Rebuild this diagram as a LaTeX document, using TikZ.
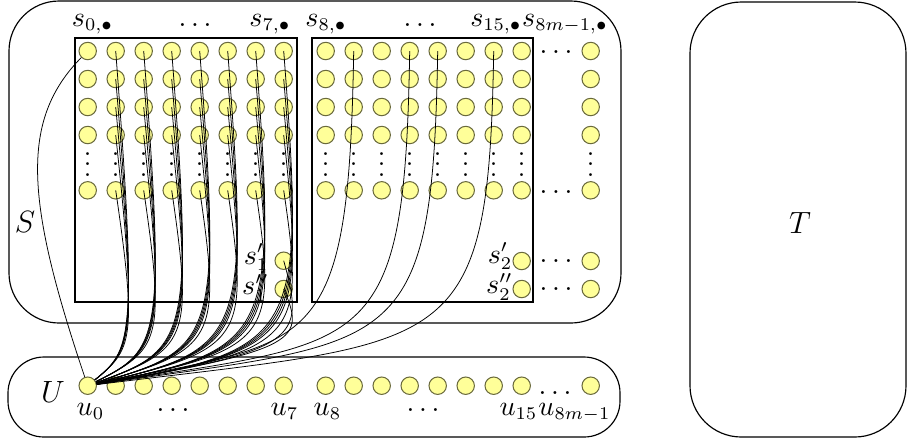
\documentclass[tikz,border=0pt]{standalone}
\usetikzlibrary{calc}
\definecolor{vfill}{RGB}{255,255,153}
\definecolor{vline}{RGB}{105,105,60}
\begin{document}
\begin{tikzpicture}[x=0.39pt,y=-0.39pt,
  every node/.style={font=\fontsize{10.5}{12.6}\selectfont},
  vert/.style={circle,draw=vline,fill=vfill,line width=0.4pt,minimum size=6.8pt,inner sep=0pt},
  edg/.style={line width=0.3pt},
  frame/.style={line width=0.45pt},
  lab/.style={anchor=base,inner sep=0pt},
  vdot/.style={anchor=base,inner sep=0pt,text height=9pt,text depth=0pt},
  labr/.style={anchor=base east,inner sep=0pt},
  big/.style={inner sep=0pt,font=\fontsize{12}{14}\selectfont}]
\useasboundingbox (0,0) rectangle (907,442);
% frames
\draw[frame,rounded corners=19.5pt] (9,1) rectangle (621,323);
\draw[frame] (75,38) rectangle (297,302);
\draw[frame] (312,38) rectangle (533,302);
\draw[frame,rounded corners=14pt] (8,357) rectangle (620,437);
\draw[frame,rounded corners=20pt] (690,2) rectangle (906,437);
% grid vertices (column 16 = last column, index 8m-1)
\foreach \c in {0,...,16}{
  \pgfmathsetmacro\xx{\c==16 ? 590.7 : (\c<8 ? 87.7+28*\c : 325.7+28*(\c-8))}
  \foreach \r/\y in {1/51,2/79,3/107,4/135,5/190.3}{
    \node[vert] (s-\c-\r) at (\xx,\y) {};
  }
  \node[vdot] (vd-\c) at (\xx,176.1) {$\vdots$};
  \node[vert] (u-\c) at (\xx,385.7) {};
}
\node[vert] (s1p) at (283.7,260.7) {};
\node[vert] (s1pp) at (283.7,289) {};
\node[vert] (s2p) at (521.7,261) {};
\node[vert] (s2pp) at (521.7,289) {};
\node[vert] (smp) at (590.7,261) {};
\node[vert] (smpp) at (590.7,289) {};
% edges
\draw[edg] (s-0-1) .. controls (20,120) and (25,200) .. (u-0);
\foreach \c in {1,...,7}{
  \pgfmathsetmacro\xx{87.7+28*\c}
  \foreach \r in {1,...,5}{
    \draw[edg] (s-\c-\r.center) .. controls ({\xx+22},340) and ({\xx+16},350) .. (u-0);
  }
}
\foreach \n in {s1p,s1pp}{
  \draw[edg] (\n.center) .. controls (305.7,340) and (299.7,350) .. (u-0);
}
\foreach \c in {9,11,12,14}{
  \pgfmathsetmacro\xx{325.7+28*(\c-8)}
  \draw[edg] (s-\c-1.center) .. controls ({\xx-5},360) and ({\xx-40},340) .. (u-0);
}
% top labels
\node[lab] (ls0) at (92.5,26) {$s_{0,\bullet}$};
\node[lab] (ld1) at (195,26) {$\ldots$};
\node[lab] (ls7) at (270,26) {$s_{7,\bullet}$};
\node[lab] (ls8) at (326,26) {$s_{8,\bullet}$};
\node[lab] (ld2) at (420,26) {$\ldots$};
\node[lab] (ls15) at (496,26) {$s_{15,\bullet}$};
\node[lab] (lsm) at (565,26) {$s_{8m-1,\bullet}$};
% row dots
\node[lab] (hd1) at (556,53.8) {$\ldots$};
\node[lab] (hd2) at (556,193.2) {$\ldots$};
\node[lab] (hd3) at (556,262.5) {$\ldots$};
\node[lab] (hd4) at (556,290.5) {$\ldots$};
\node[lab] (hd5) at (555,394.8) {$\ldots$};
% primes
\node[labr] (l1p) at (269,264) {$s'_1$};
\node[labr] (l1pp) at (269,294.5) {$s''_1$};
\node[labr] (l2p) at (513,263) {$s'_2$};
\node[labr] (l2pp) at (513,293.5) {$s''_2$};
% u labels
\node[lab] (lu0) at (90.5,415) {$u_0$};
\node[lab] (lud1) at (173,411.5) {$\ldots$};
\node[lab] (lu7) at (284.5,415) {$u_7$};
\node[lab] (lu8) at (327.5,415) {$u_8$};
\node[lab] (lud2) at (423,411.5) {$\ldots$};
\node[lab] (lu15) at (518.5,415) {$u_{15}$};
\node[lab] (lum) at (574.5,415) {$u_{8m-1}$};
% set labels
\node[big] (lS) at (25,222) {$S$};
\node[big] (lT) at (800,223) {$T$};
\node[big] (lU) at (53,392) {$U$};
\end{tikzpicture}
\end{document}
